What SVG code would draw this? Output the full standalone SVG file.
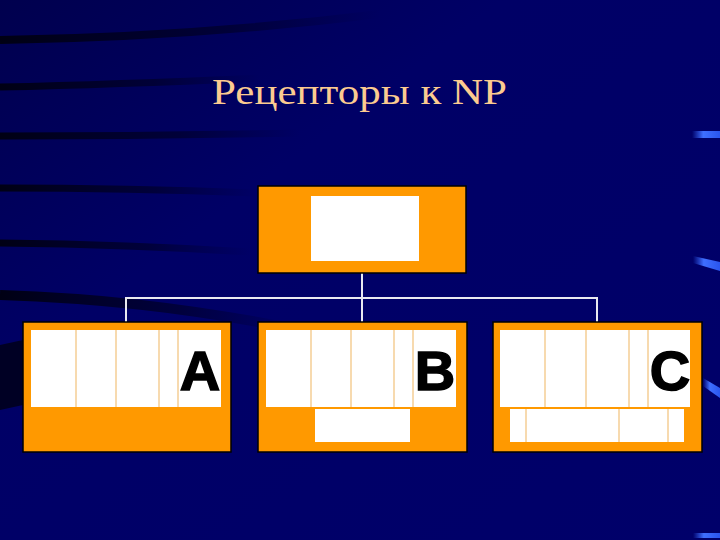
<svg xmlns="http://www.w3.org/2000/svg" width="720" height="540" viewBox="0 0 720 540">
  <defs>
    <linearGradient id="bg" x1="0" y1="0" x2="1" y2="1">
      <stop offset="0" stop-color="#00004e"/>
      <stop offset="0.35" stop-color="#000066"/>
      <stop offset="1" stop-color="#00006a"/>
    </linearGradient>
    <linearGradient id="dark" x1="0" y1="0" x2="1" y2="0">
      <stop offset="0" stop-color="#000010" stop-opacity="0.95"/>
      <stop offset="0.6" stop-color="#000020" stop-opacity="0.6"/>
      <stop offset="1" stop-color="#000030" stop-opacity="0"/>
    </linearGradient>
    <linearGradient id="glow" x1="0" y1="0" x2="1" y2="0">
      <stop offset="0" stop-color="#3366ff" stop-opacity="0"/>
      <stop offset="0.4" stop-color="#3f6fff"/>
      <stop offset="1" stop-color="#2a55ee"/>
    </linearGradient>
    <style>
      .box { fill: #ff9900; stroke: #000000; stroke-width: 1.5; }
      .cell { fill: #ffffff; }
      .div { stroke: #f2c27a; stroke-width: 1.2; }
      .conn { stroke: #e8e8f0; stroke-width: 2; fill: none; }
      .letter { font-family: "Liberation Sans", Arial, sans-serif; font-weight: bold; font-size: 56px; fill: #000000; stroke: #000000; stroke-width: 1.5; text-anchor: middle; }
      .title { font-family: "Liberation Serif", "Times New Roman", serif; font-size: 36px; fill: #fccb90; }
      .streak { fill: none; stroke: url(#dark); }
    </style>
  </defs>

  <!-- background -->
  <rect x="0" y="0" width="720" height="540" fill="url(#bg)"/>
  <g id="background-streaks">
    <path class="streak" stroke-width="8" d="M0,40 C120,38 250,30 380,14"/>
    <path class="streak" stroke-width="7" d="M0,87 C90,85 170,82 260,78"/>
    <path class="streak" stroke-width="7" d="M0,136 C100,136 200,135 300,133"/>
    <path class="streak" stroke-width="7" d="M0,188 C90,188 180,190 258,193"/>
    <path class="streak" stroke-width="7" d="M0,243 C90,244 170,247 250,252"/>
    <path class="streak" stroke-width="10" d="M0,295 C90,298 180,306 300,330"/>
    <path fill="#000014" opacity="0.8" d="M0,345 L23,340 L23,405 L0,410 Z"/>
    <path fill="url(#glow)" d="M692,131 L720,131 L720,138 L692,138 Z"/>
    <path fill="url(#glow)" d="M693,256 L720,262 L720,271 L693,263 Z"/>
    <path fill="url(#glow)" d="M703,378 L720,388 L720,398 L703,386 Z"/>
    <path fill="url(#glow)" d="M693,533 L720,533 L720,538 L693,538 Z"/>
  </g>

  <text id="title" class="title" x="212" y="104" textLength="295" lengthAdjust="spacingAndGlyphs">Рецепторы к NP</text>

  <g id="connectors">
    <line class="conn" x1="362" y1="273" x2="362" y2="322"/>
    <polyline class="conn" points="126,322 126,298 597,298 597,322"/>
  </g>

  <g id="node-top">
    <rect class="box" x="258" y="186" width="208" height="87"/>
    <rect class="cell" x="311" y="196" width="108" height="65"/>
  </g>

  <g id="node-A">
    <rect class="box" x="23" y="322" width="208" height="130"/>
    <rect class="cell" x="31" y="330" width="190" height="77"/>
    <line class="div" x1="76" y1="330" x2="76" y2="407"/>
    <line class="div" x1="116" y1="330" x2="116" y2="407"/>
    <line class="div" x1="159" y1="330" x2="159" y2="407"/>
    <line class="div" x1="178" y1="330" x2="178" y2="407"/>
    <text class="letter" x="200" y="390">A</text>
  </g>

  <g id="node-B">
    <rect class="box" x="258" y="322" width="209" height="130"/>
    <rect class="cell" x="266" y="330" width="190" height="77"/>
    <line class="div" x1="311" y1="330" x2="311" y2="407"/>
    <line class="div" x1="351" y1="330" x2="351" y2="407"/>
    <line class="div" x1="394" y1="330" x2="394" y2="407"/>
    <line class="div" x1="413" y1="330" x2="413" y2="407"/>
    <text class="letter" x="435" y="390">B</text>
    <rect class="cell" x="315" y="409" width="95" height="33"/>
  </g>

  <g id="node-C">
    <rect class="box" x="493" y="322" width="209" height="130"/>
    <rect class="cell" x="500" y="330" width="190" height="77"/>
    <line class="div" x1="545" y1="330" x2="545" y2="407"/>
    <line class="div" x1="586" y1="330" x2="586" y2="407"/>
    <line class="div" x1="629" y1="330" x2="629" y2="407"/>
    <line class="div" x1="648" y1="330" x2="648" y2="407"/>
    <text class="letter" x="670" y="390">C</text>
    <rect class="cell" x="510" y="409" width="174" height="33"/>
    <line class="div" x1="526" y1="409" x2="526" y2="442"/>
    <line class="div" x1="619" y1="409" x2="619" y2="442"/>
    <line class="div" x1="668" y1="409" x2="668" y2="442"/>
  </g>
</svg>
